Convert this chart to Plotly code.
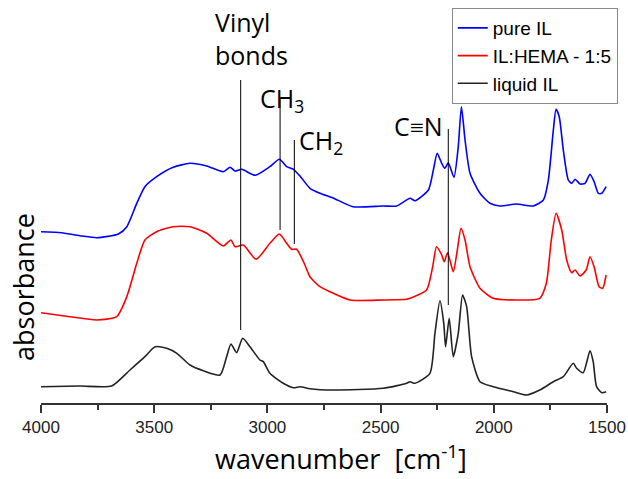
import plotly.graph_objects as go

# ---------------- data ----------------
blue_wn = [4000, 3909, 3820, 3754, 3658, 3621, 3577, 3541, 3489, 3416, 3342, 3268, 3195, 3165, 3143,
           3113, 3054, 2989, 2947, 2915, 2885, 2856, 2812, 2768, 2710, 2622, 2489, 2429, 2370, 2348,
           2289, 2267, 2250, 2230, 2216, 2201, 2176, 2157, 2143, 2127, 2105, 2061, 2017, 1973, 1899,
           1826, 1781, 1759, 1737, 1725, 1711, 1693, 1671, 1656, 1641, 1619, 1597, 1575, 1557, 1538,
           1523, 1504]
blue_abs = [1.713, 1.703, 1.67, 1.653, 1.69, 1.763, 1.997, 2.163, 2.263, 2.357, 2.397, 2.37, 2.313, 2.357, 2.32,
            2.337, 2.277, 2.363, 2.437, 2.363, 2.337, 2.27, 2.147, 2.097, 2.05, 1.963, 1.97, 1.97, 2.047, 2.023,
            2.13, 2.33, 2.497, 2.397, 2.347, 2.403, 2.257, 2.563, 2.963, 2.63, 2.297, 2.097, 1.997, 1.97, 1.99,
            1.97, 2.03, 2.23, 2.73, 2.937, 2.863, 2.53, 2.23, 2.197, 2.237, 2.19, 2.197, 2.287, 2.213, 2.097,
            2.097, 2.163]

red_wn = [4000, 3872, 3754, 3666, 3621, 3577, 3541, 3489, 3416, 3342, 3268, 3195, 3161, 3143, 3106,
          3050, 2989, 2947, 2915, 2893, 2871, 2840, 2812, 2768, 2709, 2635, 2488, 2385, 2370, 2297,
          2270, 2253, 2230, 2219, 2204, 2179, 2161, 2145, 2127, 2105, 2061, 2002, 1899, 1797, 1768,
          1746, 1725, 1700, 1678, 1656, 1641, 1619, 1592, 1575, 1557, 1535, 1519, 1504]
red_abs = [0.903, 0.863, 0.83, 0.863, 1.063, 1.397, 1.63, 1.713, 1.763, 1.763, 1.697, 1.57, 1.63, 1.563, 1.58,
           1.437, 1.597, 1.69, 1.597, 1.537, 1.537, 1.41, 1.263, 1.163, 1.097, 1.03, 1.03, 1.037, 1.047, 1.13,
           1.363, 1.563, 1.48, 1.413, 1.503, 1.313, 1.53, 1.747, 1.63, 1.363, 1.147, 1.047, 1.03, 1.047, 1.197,
           1.63, 1.897, 1.73, 1.43, 1.303, 1.33, 1.27, 1.33, 1.463, 1.363, 1.163, 1.147, 1.28]

black_wn = [4000, 3828, 3688, 3607, 3541, 3496, 3445, 3400, 3342, 3283, 3209, 3180, 3161, 3136, 3109,
            3077, 3033, 3018, 2989, 2930, 2885, 2856, 2812, 2709, 2488, 2385, 2370, 2348, 2282, 2260,
            2238, 2221, 2213, 2197, 2179, 2157, 2138, 2120, 2098, 2061, 2002, 1914, 1855, 1797, 1737,
            1693, 1649, 1634, 1605, 1575, 1561, 1546, 1523, 1504]
black_abs = [0.163, 0.17, 0.17, 0.33, 0.463, 0.563, 0.547, 0.497, 0.38, 0.323, 0.28, 0.463, 0.59, 0.503, 0.647,
             0.563, 0.43, 0.413, 0.297, 0.197, 0.153, 0.163, 0.143, 0.13, 0.147, 0.197, 0.213, 0.197, 0.297, 0.697,
             1.023, 0.797, 0.563, 0.847, 0.463, 0.697, 1.08, 0.963, 0.463, 0.213, 0.163, 0.113, 0.08, 0.13, 0.213,
             0.263, 0.397, 0.347, 0.303, 0.523, 0.413, 0.163, 0.103, 0.113]

series_names = ["pure IL", "IL:HEMA - 1:5", "liquid IL"]
series_colors = ["#0000ff", "#ff0000", "#222222"]

# band markers: label, wavenumber, line top, line bottom, label x (wavenumber), label y
band_labels = ["Vinyl<br>bonds", "CH<sub>3</sub>", "CH<sub>2</sub>", "C≡N"]
band_wn = [3118, 2944, 2881, 2201]
band_top = [3.23, 3.04, 2.63, 2.74]
band_bottom = [0.73, 1.73, 1.59, 0.98]
label_wn = [3240, 3042, 2869, 2450]
label_y = [3.65, 3.04, 2.62, 2.77]

# ---------------- figure ----------------
fig = go.Figure()
for wn, ab, name, col in zip([blue_wn, red_wn, black_wn], [blue_abs, red_abs, black_abs],
                             series_names, series_colors):
    fig.add_trace(go.Scatter(x=wn, y=ab, mode="lines", name=name,
                             line=dict(color=col, width=1.6, shape="spline", smoothing=0.6)))

for w, t, b in zip(band_wn, band_top, band_bottom):
    fig.add_shape(type="line", x0=w, x1=w, y0=b, y1=t, xref="x", yref="y",
                  line=dict(color="black", width=1))

for lab, lx, ly in zip(band_labels, label_wn, label_y):
    fig.add_annotation(x=lx, y=ly, xref="x", yref="y", text=lab, showarrow=False,
                       xanchor="left", yanchor="middle", align="left",
                       font=dict(family="Open Sans", size=25, color="black"))

fig.add_annotation(x=0, y=0.288, xref="paper", yref="paper", xshift=-17, text="absorbance",
                   textangle=-90, showarrow=False, xanchor="center", yanchor="middle",
                   font=dict(family="Open Sans", size=27, color="black"))
fig.add_annotation(x=0.53, y=0, xref="paper", yref="paper", yshift=-75, borderpad=0,
                   text="wavenumber  [cm<sup>-1</sup>]", showarrow=False,
                   xanchor="center", yanchor="bottom",
                   font=dict(family="Open Sans", size=27, color="black"))

fig.update_layout(
    width=628, height=479,
    margin=dict(l=41, r=21, t=0, b=76),
    paper_bgcolor="white", plot_bgcolor="white",
    showlegend=True,
    legend=dict(x=1.019, y=0.98, xanchor="right", yanchor="top",
                bordercolor="#888888", borderwidth=1, bgcolor="white",
                font=dict(family="Arial", size=19, color="black"),
                tracegroupgap=0, itemwidth=30),
    xaxis=dict(range=[4000, 1500], tickmode="linear", tick0=1500, dtick=500,
               ticks="outside", ticklen=8, tickwidth=1.5, tickcolor="#333333",
               showline=True, linecolor="#333333", linewidth=1.5, mirror=False,
               showgrid=False, zeroline=False,
               minor=dict(ticks="outside", ticklen=5, tickwidth=1.5, tickcolor="#333333", dtick=250,
                          showgrid=False),
               tickfont=dict(family="Arial", size=17, color="#222222")),
    yaxis=dict(range=[0, 4.03], showline=False, showticklabels=False, ticks="",
               showgrid=False, zeroline=False),
)

fig.write_html("out.html")
